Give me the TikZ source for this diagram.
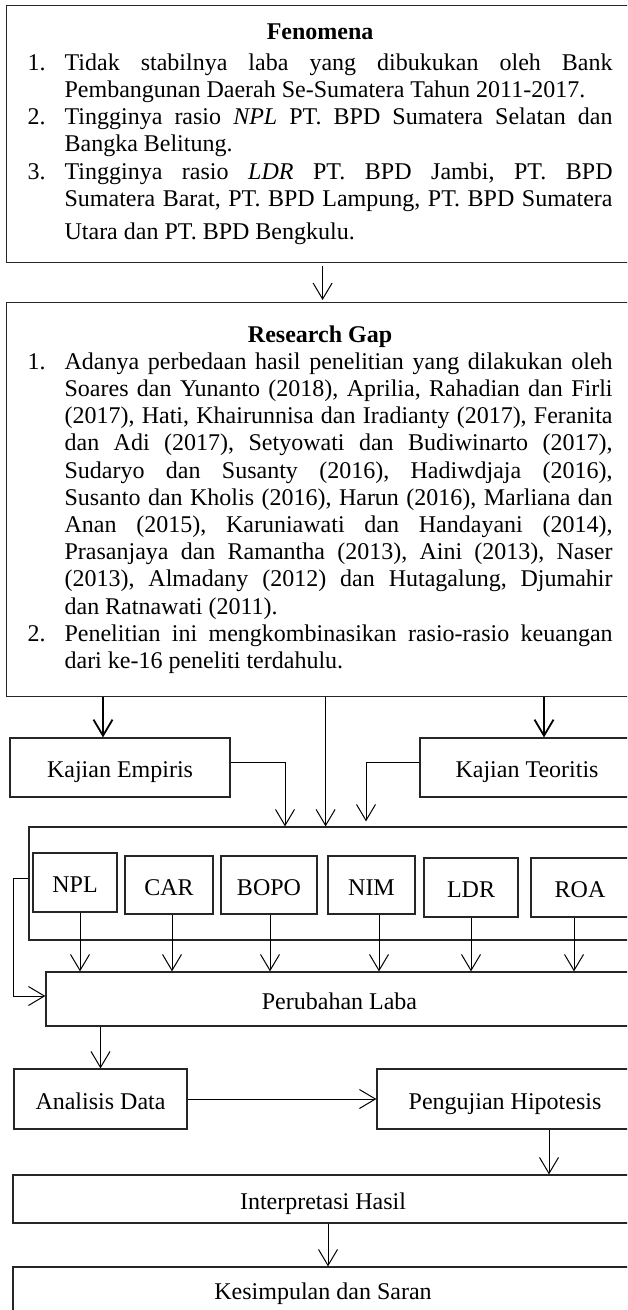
\documentclass[tikz,border=0pt]{standalone}
\usepackage{fontspec}
\setmainfont{Liberation Serif}
\usepackage{tikz}
\usetikzlibrary{arrows.meta}

% numbered item with hanging indent
\newcommand\fitem[1]{\par\noindent\hangindent=18.5pt\hangafter=1\makebox[18.5pt][l]{#1}\ignorespaces}

\begin{document}
\frenchspacing\tolerance=9999\relax
\begin{tikzpicture}[x=0.5pt, y=-0.5pt,
  >={Straight Barb[length=8pt,width=9.5pt]},
  box/.style={draw=black!85, line width=0.6pt, inner sep=0pt,
    font=\fontsize{12}{13.6}\selectfont},
  lbl/.style={box, text height=10pt, text depth=0pt},
  txtbox/.style={box, anchor=north west, text width=292.5pt, inner xsep=10.5pt, align=justify},
  conn/.style={->, line width=0.5pt},
  thickconn/.style={->, line width=0.9pt}]

\useasboundingbox (0,0) rectangle (627,1310);
\clip (0,0) rectangle (627,1310);

% Fenomena
\node[txtbox, minimum height=128.5pt] (fenomena) at (6,5) {%
\noindent\makebox[\hsize]{\textbf{Fenomena}}\par\vspace{1.9pt}
\fitem{1.}Tidak stabilnya laba yang dibukukan oleh Bank\linebreak Pembangunan Daerah Se-Sumatera Tahun 2011-2017.\par
\fitem{2.}Tingginya rasio \textit{NPL} PT. BPD Sumatera Selatan dan\linebreak Bangka Belitung.\par
\fitem{3.}Tingginya rasio \textit{LDR} PT. BPD Jambi, PT. BPD\rule[-4pt]{0pt}{4pt}\linebreak \rule[-4pt]{0pt}{11pt}Sumatera Barat, PT. BPD Lampung, PT. BPD Sumatera\linebreak \rule{0pt}{11.5pt}Utara dan PT. BPD Bengkulu.\par};

% Research Gap
\node[txtbox, minimum height=197pt] (gap) at (6,302) {%
\noindent\makebox[\hsize]{\textbf{Research Gap}}\par
\fitem{1.}Adanya perbedaan hasil penelitian yang dilakukan oleh\linebreak Soares dan Yunanto (2018), Aprilia, Rahadian dan Firli\linebreak (2017), Hati, Khairunnisa dan Iradianty (2017), Feranita\linebreak dan Adi (2017), Setyowati dan Budiwinarto (2017),\linebreak Sudaryo dan Susanty (2016), Hadiwdjaja (2016),\linebreak Susanto dan Kholis (2016), Harun (2016), Marliana dan\linebreak Anan (2015), Karuniawati dan Handayani (2014),\linebreak Prasanjaya dan Ramantha (2013), Aini (2013), Naser\linebreak (2013), Almadany (2012) dan Hutagalung, Djumahir\linebreak dan Ratnawati (2011).\par
\fitem{2.}Penelitian ini mengkombinasikan rasio-rasio keuangan\linebreak dari ke-16 peneliti terdahulu.\par};

% Kajian
\node[lbl, minimum width=110pt, minimum height=29.5pt] (empiris) at (120,767.5) {Kajian Empiris};
\node[lbl, minimum width=107pt, minimum height=29.5pt] (teoritis) at (527,767.5) {Kajian Teoritis};

% variabel
\node[box, minimum width=302pt, minimum height=56.5pt] (vars) at (331,883.5) {};
\node[lbl, minimum width=42pt, minimum height=29.5pt] (npl) at (75,882.5) {NPL};
\node[lbl, minimum width=44pt, minimum height=29pt] (car) at (169,885) {CAR};
\node[lbl, minimum width=48pt, minimum height=29pt] (bopo) at (269,885) {BOPO};
\node[lbl, minimum width=43.5pt, minimum height=29pt] (nim) at (371.5,885) {NIM};
\node[lbl, minimum width=47pt, minimum height=29.5pt] (ldr) at (471,887.5) {LDR};
\node[lbl, minimum width=49pt, minimum height=29.5pt] (roa) at (580,887.5) {ROA};

\node[lbl, minimum width=293.5pt, minimum height=27pt] (laba) at (339.5,999) {Perubahan Laba};

% analisis
\node[lbl, minimum width=86.5pt, minimum height=30pt] (analisis) at (100.5,1099) {Analisis Data};
\node[lbl, minimum width=128pt, minimum height=30pt] (pengujian) at (505,1099) {Pengujian Hipotesis};
\node[lbl, minimum width=310pt, minimum height=24pt] (interp) at (323,1199) {Interpretasi Hasil};
\node[lbl, minimum width=310pt, minimum height=22.5pt] (kesimpulan) at (323,1289.5) {Kesimpulan dan Saran};

% panah
\draw[conn, shorten <=1.5pt, shorten >=1pt] ([xshift=1.25pt]fenomena.south) -- ([xshift=1.25pt]gap.north);
\draw[thickconn] ([xshift=-8.5pt]empiris.north |- gap.south) -- ([xshift=-8.5pt]empiris.north);
\draw[thickconn] ([xshift=8.5pt]teoritis.north |- gap.south) -- ([xshift=8.5pt]teoritis.north);
\draw[conn] ([xshift=2.75pt]gap.south) -- ([xshift=2.75pt]gap.south |- vars.north);
\draw[conn] ([yshift=2.75pt]empiris.east) -| ([xshift=-23pt]vars.north);
\draw[conn, shorten >=2.5pt] ([yshift=2.75pt]teoritis.west) -| ([xshift=17.5pt]vars.north);

\foreach \v/\dx in {npl/2.5pt, car/1.5pt, bopo/0.5pt, nim/3.75pt, ldr/0pt, roa/-3pt}
  \draw[conn] ([xshift=\dx]\v.south) -- ([xshift=\dx]\v.south |- laba.north);

\draw[conn] ([yshift=2.75pt]vars.west) -- ++(-7.5pt,0) |- ([yshift=1.5pt]laba.west);
\draw[conn] (analisis.north |- laba.south) -- (analisis.north);
\draw[conn] (analisis) -- (pengujian);
\draw[conn] ([xshift=22pt]pengujian.south) -- ([xshift=22pt]pengujian.south |- interp.north);
\draw[conn] ([xshift=2.5pt]interp.south) -- ([xshift=2.5pt]interp.south |- kesimpulan.north);

\end{tikzpicture}
\end{document}
